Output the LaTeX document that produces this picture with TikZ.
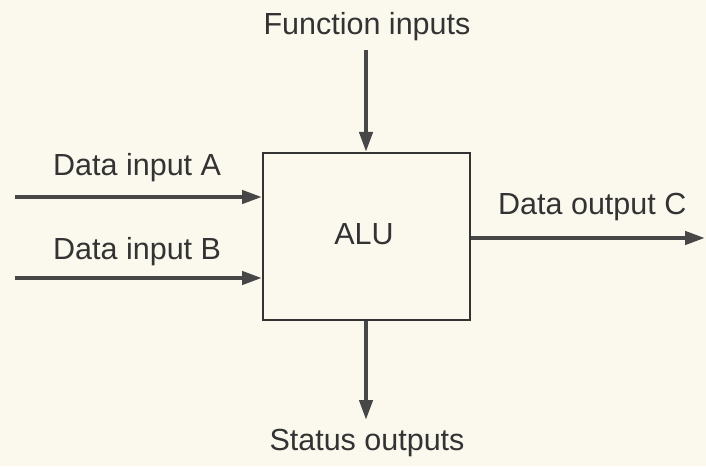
\documentclass[tikz,border=0pt]{standalone}
\usepackage{fontspec}
\setmainfont{Liberation Sans}
\usetikzlibrary{arrows.meta}
\definecolor{paper}{HTML}{FBF9EE}
\definecolor{ink}{HTML}{333333}
\begin{document}
\begin{tikzpicture}[x=1pt,y=1pt,
  lbl/.style={font=\fontsize{30.5}{34}\selectfont, text=ink, inner sep=0pt},
  flow/.style={draw=ink!90, line width=4.2pt, -{Triangle[length=20pt,width=13pt]}},
  alubox/.style={draw=ink, line width=2pt, fill=none, minimum width=207pt, minimum height=167pt, inner sep=0pt}]
\fill[paper] (0,0) rectangle (706,466);
\useasboundingbox (0,0) rectangle (706,466);
\node[alubox] (alu) at (366.5,229.5) {};
\node[lbl, anchor=base] (alutext) at (364,221) {ALU};
\node[lbl, anchor=base] (fin) at (367,431) {Function inputs};
\node[lbl, anchor=base] (sout) at (367,16) {Status outputs};
\node[lbl, anchor=base west] (da) at (53,290) {Data input A};
\node[lbl, anchor=base west] (db) at (53,206) {Data input B};
\node[lbl, anchor=base west] (dc) at (498,251) {Data output C};
\coordinate (finS) at (366,416);
\coordinate (soutE) at (366,46);
\coordinate (daS) at (15,269);
\coordinate (dbS) at (15,188);
\coordinate (dcE) at (705,228);
\draw[flow] (finS) -- (finS |- alu.north);
\draw[flow] (soutE |- alu.south) -- (soutE);
\draw[flow] (daS) -- (daS -| alu.west);
\draw[flow] (dbS) -- (dbS -| alu.west);
\draw[flow] (dcE -| alu.east) -- (dcE);
\end{tikzpicture}
\end{document}
